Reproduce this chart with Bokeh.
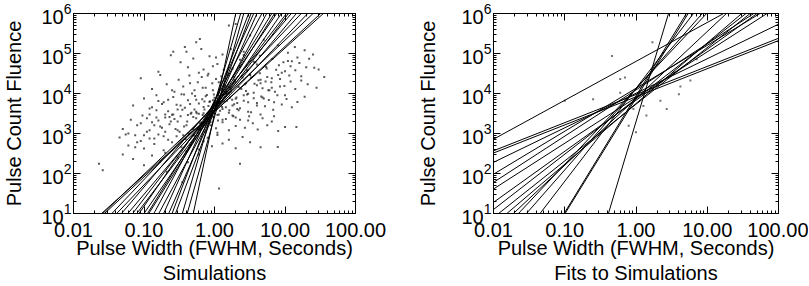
from bokeh.plotting import figure
from bokeh.models import (LogAxis, FixedTicker, Title, ColumnDataSource,
                          Range1d, CustomJSTickFormatter, LogTickFormatter)
from bokeh.layouts import row
from bokeh.embed import file_html
from bokeh.resources import INLINE

FONT = "Liberation Sans"

# ---------------- axes ----------------
x_ticks = [0.01, 0.1, 1.0, 10.0, 100.0]
x_tick_labels = ["0.01", "0.10", "1.00", "10.00", "100.00"]
y_ticks = [10, 100, 1e3, 1e4, 1e5, 1e6]

x_label = "Pulse Width (FWHM, Seconds)"
y_label = "Pulse Count Fluence"
left_title = "Simulations"
right_title = "Fits to Simulations"

# ---------------- left panel: simulated pulses ----------------
sim_width_a = [0.26, 0.38, 0.62, 0.55, 1.6, 2.0, 3.2, 5.0, 8.0, 13.8, 19, 11]
sim_fluence_a = [1.1e5, 1.45e5, 2.3e5, 1.9e5, 5e5, 5.5e5, 2.8e5, 2.2e5, 1.6e5, 1.45e5, 1.2e5, 1.05e5]

sim_width_b = [0.16, 0.24, 0.33, 0.42, 0.5, 0.7, 0.85, 1.1, 1.3, 1.8,
               2.3, 2.9, 3.6, 4.4, 5.4, 6.6, 8.2, 10, 12.5, 16,
               22, 26, 0.6, 1.5, 2.6, 4.0, 7.5, 0.95]
sim_fluence_b = [3.5e4, 9e4, 6e4, 4.5e4, 7.5e4, 4e4, 8.5e4, 5.5e4, 9.5e4, 4.2e4,
                 7e4, 3.8e4, 6.2e4, 8.8e4, 4.6e4, 7.3e4, 5.1e4, 3.6e4, 6.4e4, 5.8e4,
                 7.4e4, 4.4e4, 3.3e4, 3.4e4, 9.2e4, 5.3e4, 3.9e4, 4.8e4]

sim_width_c = [0.09, 0.13, 0.17, 0.21, 0.27, 0.31, 0.36, 0.44, 0.52, 0.58,
               0.66, 0.75, 0.82, 0.93, 1.05, 1.15, 1.25, 1.4, 1.55, 1.7,
               1.95, 2.2, 2.5, 2.8, 3.2, 3.7, 4.2, 4.8, 5.6, 6.4,
               7.2, 8.5, 9.8, 11.5, 14, 17, 21, 28, 36, 0.48]
sim_fluence_c = [2.4e4, 1.3e4, 2.9e4, 1.7e4, 1.1e4, 2.2e4, 1.5e4, 2.8e4, 1.2e4, 1.9e4,
                 2.6e4, 1.4e4, 3.1e4, 1.8e4, 2.3e4, 1.05e4, 2.7e4, 1.6e4, 3.0e4, 1.25e4,
                 2.0e4, 1.45e4, 2.5e4, 1.15e4, 2.9e4, 1.75e4, 2.15e4, 1.35e4, 2.6e4, 1.9e4,
                 1.1e4, 2.3e4, 1.55e4, 2.8e4, 1.3e4, 2.1e4, 1.7e4, 1.4e4, 2.6e4, 1.0e4]

sim_width_d = [0.07, 0.1, 0.12, 0.15, 0.19, 0.22, 0.26, 0.29, 0.34, 0.38,
               0.42, 0.47, 0.53, 0.6, 0.67, 0.72, 0.78, 0.86, 0.92, 1.0,
               1.08, 1.18, 1.28, 1.38, 1.5, 1.62, 1.78, 1.9, 2.05, 2.3,
               2.6, 2.9, 3.3, 3.6, 4.0, 4.6, 5.2, 5.9, 6.8, 7.8,
               9.0, 10.5, 12.5, 15, 19, 0.56, 0.82, 1.2, 2.1, 3.0]
sim_fluence_d = [5e3, 7.5e3, 4.2e3, 9e3, 6e3, 3.6e3, 8.2e3, 5.2e3, 9.6e3, 4.4e3,
                 6.8e3, 3.3e3, 8.6e3, 5.6e3, 7.2e3, 4e3, 9.2e3, 6.4e3, 3.5e3, 7.8e3,
                 5e3, 8.8e3, 4.6e3, 6.2e3, 9.8e3, 3.8e3, 7e3, 5.4e3, 8e3, 4.3e3,
                 6.6e3, 9.4e3, 3.4e3, 7.6e3, 5.8e3, 8.4e3, 4.8e3, 6.9e3, 3.9e3, 9e3,
                 5.3e3, 7.3e3, 4.5e3, 6.1e3, 8.3e3, 3.2e3, 4.9e3, 3.7e3, 4.1e3, 9.9e3]

sim_width_e = [0.05, 0.065, 0.08, 0.095, 0.11, 0.13, 0.15, 0.18, 0.2, 0.23,
               0.27, 0.3, 0.33, 0.37, 0.41, 0.46, 0.5, 0.55, 0.62, 0.68,
               0.74, 0.8, 0.88, 0.96, 1.05, 1.15, 1.3, 1.45, 1.6, 1.8,
               2.0, 2.3, 2.7, 3.1, 3.5, 4.1, 4.8, 5.6, 6.5, 8.0,
               10, 0.43, 0.7, 1.1, 0.25]
sim_fluence_e = [1.3e3, 2.2e3, 1.6e3, 2.8e3, 1.1e3, 1.9e3, 2.5e3, 1.4e3, 3.0e3, 1.7e3,
                 2.3e3, 1.2e3, 2.7e3, 1.5e3, 2.0e3, 3.1e3, 1.3e3, 2.4e3, 1.8e3, 2.9e3,
                 1.1e3, 2.1e3, 1.6e3, 2.6e3, 1.35e3, 3.0e3, 1.9e3, 2.3e3, 1.2e3, 2.8e3,
                 1.55e3, 2.2e3, 1.4e3, 2.7e3, 1.8e3, 1.25e3, 2.4e3, 1.6e3, 2.0e3, 1.15e3,
                 1.45e3, 1.0e3, 3.2e3, 1.05e3, 2.95e3]

sim_width_f = [0.045, 0.06, 0.075, 0.09, 0.1, 0.12, 0.14, 0.16, 0.19, 0.22,
               0.25, 0.29, 0.34, 0.39, 0.45, 0.52, 0.6, 0.7, 0.8, 0.92,
               1.1, 1.3, 1.6, 2.0, 2.5, 3.2, 4.5, 0.055, 0.2, 0.4]
sim_fluence_f = [800, 500, 900, 650, 420, 750, 550, 950, 380, 700,
                 600, 850, 450, 720, 520, 880, 400, 640, 780, 480,
                 920, 560, 700, 430, 820, 600, 450, 950, 330, 360]

sim_width_g = [0.023, 0.026, 0.05, 0.07, 0.1, 0.13, 0.17, 0.21, 0.3, 0.42,
               0.6, 1.16, 2.3, 0.35, 7.9, 14.5]
sim_fluence_g = [175, 120, 300, 230, 160, 280, 200, 110, 250, 190,
                 300, 42, 175, 60, 460, 1450]

sim_width_h = [0.3, 0.35, 0.4, 0.45, 0.5, 0.55, 0.6, 0.65, 0.7, 0.75,
               0.8, 0.85, 0.9, 0.95, 1.0, 1.1, 1.2, 1.3, 1.4, 1.5,
               1.6, 1.7, 1.8, 1.9, 2.0, 2.2, 2.4, 2.6, 2.8, 3.0,
               3.3, 3.6, 4.0, 4.4, 4.8, 5.3, 5.8, 0.32, 0.42, 0.52,
               0.62, 0.72, 0.84, 0.98, 1.12, 1.25, 1.45, 1.65, 1.85, 2.1]
sim_fluence_h = [2.0e3, 3.9e3, 1.6e3, 5.5e3, 2.6e3, 7.0e3, 3.1e3, 1.9e3, 4.6e3, 8.5e3,
                 2.4e3, 6.1e3, 3.6e3, 1.2e4, 5.2e3, 2.9e3, 8.0e3, 4.1e3, 1.5e4, 6.6e3,
                 3.3e3, 1.1e4, 5.0e3, 2.2e4, 7.4e3, 3.8e3, 1.3e4, 9.0e3, 1.8e4, 6.0e3,
                 2.5e4, 1.05e4, 1.6e4, 3.2e4, 8.0e3, 2.0e4, 1.2e4, 1.1e3, 2.9e3, 4.0e3,
                 1.4e3, 6.3e3, 3.0e3, 9.5e3, 2.1e3, 1.25e4, 4.5e3, 7.8e3, 2.7e3, 5.8e3]

sim_width_i = [0.08, 0.1, 0.12, 0.14, 0.17, 0.2, 0.24, 0.28, 0.15, 0.11,
               0.18, 0.22, 0.09, 0.13, 0.26, 0.33, 0.06, 0.075, 0.16, 0.19]
sim_fluence_i = [600, 900, 1.2e3, 750, 1.5e3, 1.1e3, 2.0e3, 1.3e3, 3.8e3, 2.4e3,
                 5.5e3, 7.0e3, 1.8e3, 4.5e3, 3.0e3, 5.0e3, 1.0e3, 450, 2.1e3, 850]

sim_width_j = [3.0, 4.0, 5.0, 6.0, 7.0, 8.5, 10, 12, 14, 17,
               20, 9.0, 6.5, 11, 15, 4.5, 25, 30]
sim_fluence_j = [3.5e3, 5.0e3, 7.5e3, 1.2e4, 6.0e3, 1.5e4, 9.0e3, 2.0e4, 3.8e4, 2.7e4,
                 4.5e4, 3.3e4, 2.4e4, 6.5e4, 8.0e4, 1.8e4, 9.5e4, 4.0e4]

sim_width_k = [0.12, 0.16, 0.2, 0.25, 0.3, 0.37, 0.45, 0.55, 0.68, 0.8,
               0.95, 1.15, 1.35, 1.6, 1.9, 2.3, 2.7, 3.2, 3.8, 4.5,
               5.5, 6.5, 8, 9.5, 12, 0.14, 0.23, 0.36, 0.58, 0.88,
               1.3, 2.0, 3.0, 4.5, 7.0, 0.4, 0.65, 1.05, 1.7, 2.6]
sim_fluence_k = [3.0e3, 6.5e3, 2.5e3, 1.2e4, 4.0e3, 9.5e3, 1.8e4, 3.5e3, 1.4e4, 2.8e4,
                 6.8e3, 1.9e4, 3.9e4, 1.0e4, 2.6e4, 4.8e4, 1.7e4, 3.0e4, 6.0e4, 2.2e4,
                 4.2e4, 1.4e4, 2.9e4, 6.0e4, 4.8e4, 1.6e3, 2.6e3, 900, 1.3e3, 1.9e3,
                 2.2e3, 2.5e3, 2.1e3, 3.0e3, 2.7e3, 1.1e5, 1.3e5, 8.0e4, 1.3e5, 1.1e5]

# simulated power-law relations: width where each line crosses the bottom / top fluence
sim_line_width_low = [0.025, 0.026, 0.0275, 0.035, 0.041, 0.048, 0.059, 0.069, 0.079, 0.085, 0.10,
                      0.112, 0.117, 0.138, 0.162, 0.19, 0.224, 0.25, 0.28, 0.35, 0.41, 0.50]
sim_line_width_high = [35, 25, 32, 17, 21, 12.3, 14.5, 10.5, 11.2, 7.6, 8.9,
                       6.5, 7.1, 4.7, 5.5, 3.6, 4.0, 3.05, 3.3, 2.35, 2.6, 2.0]
sim_line_fluence_low = 10
sim_line_fluence_high = 1e6

# ---------------- right panel: fits ----------------
fit_width_0 = [0.01, 0.01, 0.01, 0.01, 0.01, 0.01, 0.01, 0.01, 0.01,
               0.0118, 0.0154, 0.019, 0.0224, 0.029, 0.045, 0.098, 0.101, 0.41]
fit_fluence_0 = [720, 370, 325, 190, 96, 60, 41, 19, 12.6,
                 10, 10, 10, 10, 10, 10, 10, 10, 10]
fit_width_1 = [17, 100, 100, 100, 55, 45, 69, 50, 35,
               40, 30.5, 18.6, 9.8, 8.5, 6.4, 5.1, 5.4, 2.86]
fit_fluence_1 = [1e6, 2.4e5, 2.1e5, 5.4e5, 1e6, 1e6, 1e6, 1e6, 1e6,
                 1e6, 1e6, 1e6, 1e6, 1e6, 1e6, 1e6, 1e6, 1e6]

fit_pts_width = [0.46, 1.7, 0.7, 5.8, 4.2, 4.0, 2.7, 2.2, 1.4, 1.0,
                 0.25, 0.10, 0.6, 1.27, 0.92, 3.4, 7.1, 0.6, 0.79]
fit_pts_fluence = [8.7e4, 1.9e5, 2.5e4, 2.1e4, 1.5e4, 9.6e3, 4.1e3, 6.6e3, 2.8e3, 1.07e3,
                   7.2e3, 6.6e3, 1.05e4, 4.9e3, 4.1e3, 3.4e4, 7.2e4, 2.3e4, 1.56e3]


def x_formatter():
    return CustomJSTickFormatter(args=dict(tick_vals=x_ticks, tick_text=x_tick_labels), code="""
        let best = 0, bd = Infinity;
        for (let i = 0; i < tick_vals.length; i++) {
            const d = Math.abs(Math.log10(tick) - Math.log10(tick_vals[i]));
            if (d < bd) { bd = d; best = i; }
        }
        return tick_text[best];
    """)


def blank_formatter():
    return CustomJSTickFormatter(code="return '';")


def style_axis(ax, ticker, formatter):
    ax.ticker = ticker
    ax.formatter = formatter
    ax.major_tick_in = 7
    ax.major_tick_out = 0
    ax.minor_tick_in = 3
    ax.minor_tick_out = 0
    ax.axis_line_color = "black"
    ax.major_tick_line_color = "black"
    ax.minor_tick_line_color = "black"
    ax.major_label_text_font = FONT
    ax.major_label_text_font_size = "20px"
    ax.major_label_text_color = "black"
    ax.axis_label_text_font = FONT
    ax.axis_label_text_font_size = "20px"
    ax.axis_label_text_font_style = "normal"
    ax.axis_label_text_color = "black"


def make_panel(width, border_left, border_right, ylab_standoff, title_text):
    p = figure(width=width, height=286, x_axis_type="log", y_axis_type="log",
               x_range=Range1d(x_ticks[0], x_ticks[-1]),
               y_range=Range1d(y_ticks[0], y_ticks[-1]),
               output_backend="svg", toolbar_location=None,
               min_border_left=border_left, min_border_right=border_right,
               min_border_top=13, min_border_bottom=73)
    p.grid.visible = False
    p.outline_line_color = "black"
    p.outline_line_alpha = 1.0
    p.background_fill_color = "white"
    p.border_fill_color = "white"

    x_minor = [m * t for t in x_ticks[:-1] for m in range(2, 10)]
    y_minor = [m * t for t in y_ticks[:-1] for m in range(2, 10)]

    xa = p.xaxis[0]
    style_axis(xa, FixedTicker(ticks=x_ticks, minor_ticks=x_minor), x_formatter())
    xa.axis_label = x_label
    xa.major_label_standoff = 9
    xa.axis_label_standoff = -3

    ya = p.yaxis[0]
    style_axis(ya, FixedTicker(ticks=y_ticks, minor_ticks=y_minor), LogTickFormatter())
    ya.axis_label = y_label
    ya.major_label_standoff = 2
    ya.axis_label_standoff = ylab_standoff

    top = LogAxis()
    style_axis(top, FixedTicker(ticks=x_ticks, minor_ticks=x_minor), blank_formatter())
    top.major_label_standoff = 0
    p.add_layout(top, "above")
    right = LogAxis()
    style_axis(right, FixedTicker(ticks=y_ticks, minor_ticks=y_minor), blank_formatter())
    right.major_label_standoff = 0
    p.add_layout(right, "right")

    t = Title(text=title_text, align="center", text_font=FONT, text_font_size="20px",
              text_font_style="normal", text_color="black", standoff=-3)
    p.add_layout(t, "below")
    return p


# left panel
p1 = make_panel(405, 69, 50, 13, left_title)
sim_width = (sim_width_a + sim_width_b + sim_width_c + sim_width_d + sim_width_e
             + sim_width_f + sim_width_g + sim_width_h + sim_width_i + sim_width_j + sim_width_k)
sim_fluence = (sim_fluence_a + sim_fluence_b + sim_fluence_c + sim_fluence_d + sim_fluence_e
               + sim_fluence_f + sim_fluence_g + sim_fluence_h + sim_fluence_i + sim_fluence_j
               + sim_fluence_k)
p1.scatter(x="w", y="f", source=ColumnDataSource(dict(w=sim_width, f=sim_fluence)),
           marker="square", size=2, fill_color="#222222", line_color=None, alpha=0.75)
n = len(sim_line_width_low)
p1.segment(x0="x0", y0="y0", x1="x1", y1="y1",
           source=ColumnDataSource(dict(x0=sim_line_width_low, y0=[sim_line_fluence_low] * n,
                                        x1=sim_line_width_high, y1=[sim_line_fluence_high] * n)),
           line_color="black", line_width=1)

# right panel
p2 = make_panel(403, 88, 30, 19, right_title)
p2.scatter(x="w", y="f", source=ColumnDataSource(dict(w=fit_pts_width, f=fit_pts_fluence)),
           marker="square", size=2, fill_color="#444444", line_color=None, alpha=0.75)
p2.segment(x0="x0", y0="y0", x1="x1", y1="y1",
           source=ColumnDataSource(dict(x0=fit_width_0, y0=fit_fluence_0,
                                        x1=fit_width_1, y1=fit_fluence_1)),
           line_color="black", line_width=1)

layout = row(p1, p2)
open("out.html", "w").write(file_html(layout, INLINE))
